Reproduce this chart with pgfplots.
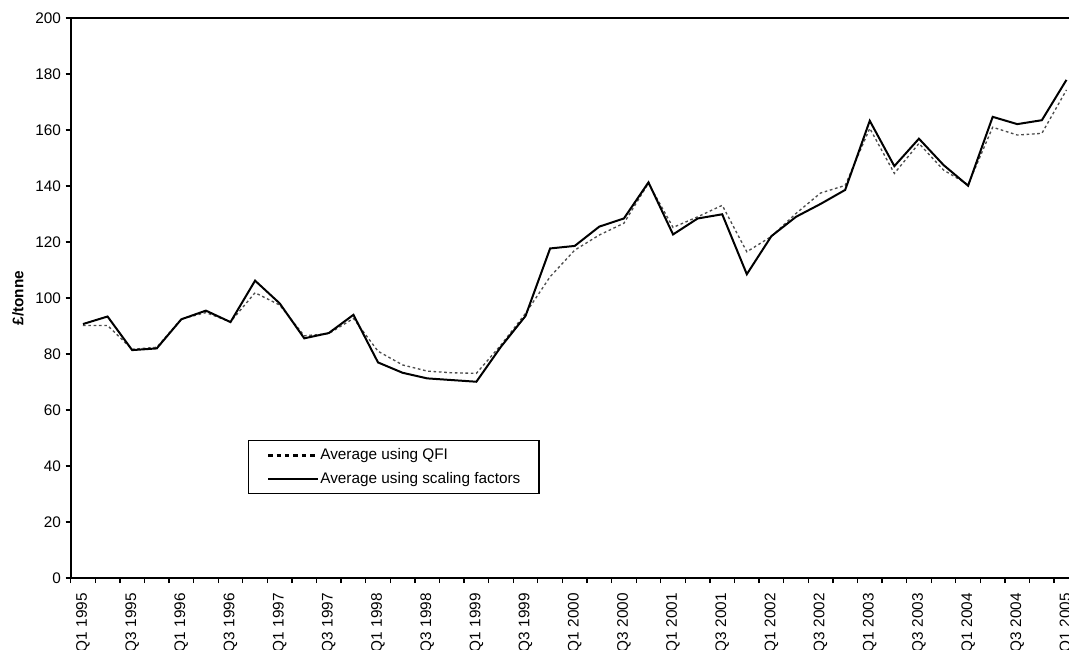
\documentclass[border=0pt]{standalone}
\usepackage{fontspec}
\setmainfont{Liberation Sans}
\usepackage{pgfplots}
\usepackage{pgfplotstable}
\pgfplotsset{compat=1.18}

% quarter index (0 = Q1 1995), QFI average, scaling-factor average
\pgfplotstableread{
idx qfi scal
0 90.2 90.7
1 90.2 93.4
2 81.7 81.4
3 82.4 82.0
4 92.5 92.4
5 94.8 95.5
6 91.5 91.4
7 101.9 106.2
8 97.5 98.1
9 86.5 85.6
10 87.3 87.5
11 92.7 94.0
12 81.0 77.0
13 76.1 73.3
14 73.9 71.3
15 73.3 70.7
16 73.1 70.1
17 83.2 82.6
18 94.5 93.6
19 107.6 117.7
20 117.1 118.6
21 122.5 125.5
22 126.7 128.4
23 141.0 141.3
24 125.2 122.7
25 129.0 128.4
26 133.1 129.9
27 116.5 108.5
28 122.0 122.1
29 130.2 129.0
30 137.5 133.6
31 140.2 138.6
32 160.6 163.3
33 144.5 147.1
34 155.2 156.9
35 145.7 147.5
36 140.5 140.1
37 161.0 164.7
38 158.2 162.1
39 158.8 163.5
40 174.3 177.9
}\prices

\newcommand{\chartfont}{\fontsize{11.5}{13}\selectfont}

\begin{document}
\begin{tikzpicture}
\begin{axis}[
    scale only axis,
    width=756pt, height=420pt,
    xmin=-0.5, xmax=40.5,
    ymin=0, ymax=200,
    ytick={0,20,...,200},
    xtick={0,2,...,40},
    xticklabels={Q1 1995,Q3 1995,Q1 1996,Q3 1996,Q1 1997,Q3 1997,Q1 1998,Q3 1998,
        Q1 1999,Q3 1999,Q1 2000,Q3 2000,Q1 2001,Q3 2001,Q1 2002,Q3 2002,
        Q1 2003,Q3 2003,Q1 2004,Q3 2004,Q1 2005},
    minor xtick={-0.5,0.5,...,40.5},
    major x tick style={draw=none},
    tick pos=left,
    tick align=outside,
    major tick length=3.75pt,
    minor tick length=3.75pt,
    every tick/.style={black, line width=1pt},
    axis line style={line width=1.5pt},
    /pgf/number format/assume math mode=true,
    tick label style={font=\chartfont},
    xticklabel style={rotate=90, anchor=east, inner sep=0pt},
    xticklabel shift=7.5pt,
    every axis y label/.style={at={(rel axis cs:0,0.5)}, xshift=-39.5pt,
        rotate=90, anchor=center, font=\chartfont\bfseries},
    ylabel={£/tonne},
    legend cell align=left,
    legend style={at={(axis description cs:0.1759,0.2464)}, anchor=north west,
        draw=black, line width=1pt, font=\chartfont,
        inner xsep=13.5pt, inner ysep=3pt, row sep=2pt,
        nodes={inner xsep=0.5pt, inner ysep=3pt},
        /tikz/every even column/.append style={column sep=0pt}},
    legend image code/.code={\draw[#1] (0pt,0pt) -- (37.5pt,0pt);},
]
\addplot[black!70, line width=1pt, dash pattern=on 2pt off 2pt,
    legend image post style={black, line width=2.25pt, dash pattern=on 3.4pt off 2.9pt}]
    table[x=idx, y=qfi] {\prices};
\addlegendentry{Average using QFI}
\addplot[black, line width=1.5pt] table[x=idx, y=scal] {\prices};
\addlegendentry{Average using scaling factors}
\end{axis}
\pgfresetboundingbox
\path[use as bounding box] (-53.0pt,-53.25pt) rectangle (748.7pt,433.5pt);
\end{tikzpicture}
\end{document}
